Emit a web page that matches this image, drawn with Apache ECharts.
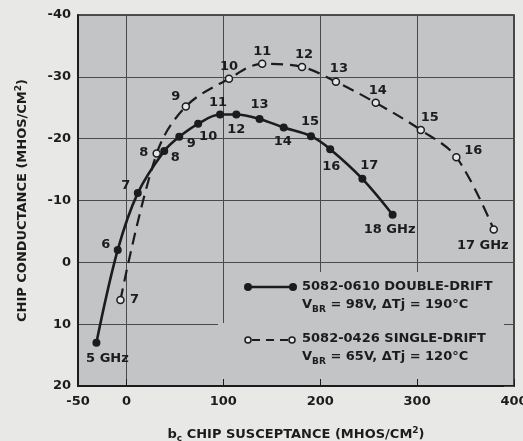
<!DOCTYPE html>
<html>
<head>
<meta charset="utf-8">
<script src="https://cdn.jsdelivr.net/npm/echarts@6/dist/echarts.min.js"></script>
<style>
  html, body { margin: 0; padding: 0; background: #e8e8e6; }
  #chart { width: 523px; height: 441px; }
</style>
</head>
<body>
<div id="chart"></div>
<script>
// 5082-0610 double-drift, solid curve (5..18 GHz)
const ddFreq = [5, 6, 7, 8, 9, 10, 11, 12, 13, 14, 15, 16, 17, 18];
const ddSusceptance = [-31, -9, 11.7, 39, 54.5, 74, 96.6, 113.4, 137.4, 162.3, 190.5, 210.3, 243.5, 274.7];
const ddConductance = [13, -2, -11.2, -18, -20.3, -22.4, -23.9, -23.9, -23.2, -21.8, -20.4, -18.3, -13.5, -7.7];

// 5082-0426 single-drift, dashed curve (7..17 GHz)
const sdFreq = [7, 8, 9, 10, 11, 12, 13, 14, 15, 16, 17];
const sdSusceptance = [-6.2, 31.2, 61.3, 105.8, 140.1, 181.2, 216.2, 257.3, 303.8, 340.5, 379.1];
const sdConductance = [6.1, -17.6, -25.2, -29.7, -32.1, -31.6, -29.2, -25.8, -21.4, -17, -5.3];

const xTickValues = [-50, 0, 100, 200, 300, 400];

// where each frequency label sits relative to its point (px)
const ddLabelOffset = [[11, 16], [-12, -5], [-12, -7], [11, 7], [12, 7], [10, 13], [-2, -12], [0, 15],
  [0, -14], [-1, 14], [-1, -15], [1, 17], [7, -13], [-3, 15]];
const sdLabelOffset = [[14, 0], [-13, -1], [-10, -10], [0, -12], [0, -12], [2, -12], [3, -13],
  [2, -12], [9, -12], [17, -7], [-11, 16]];

const FONT = '"DejaVu Sans", sans-serif';
const INK = '#1c1c1c';
const PLOT_BG = '#c3c4c5';
const OPEN_FILL = '#e6e6e6';

const chart = echarts.init(document.getElementById('chart'));

function pointData(xs, ys, offs) {
  return xs.map((x, i) => ({ value: [x, ys[i]], label: { offset: offs[i] } }));
}

const txt = { fontFamily: FONT, fontSize: 13, fontWeight: 'bold', color: INK };

const option = {
  backgroundColor: '#e8e8e6',
  animation: false,
  grid: {
    left: 78, right: 9, top: 15, bottom: 55,
    outerBoundsMode: 'none',
    show: true, backgroundColor: PLOT_BG, borderColor: INK, borderWidth: 1.5
  },
  xAxis: {
    type: 'value', min: -50, max: 400,
    name: '{a|b}{s|c}{a| CHIP SUSCEPTANCE (MHOS/CM}{p|2}{a|)}',
    nameLocation: 'middle', nameGap: 40,
    nameTextStyle: {
      rich: {
        a: txt,
        s: { ...txt, fontSize: 9, padding: [8, 0, 0, 0] },
        p: { ...txt, fontSize: 9, padding: [0, 0, 8, 0] }
      }
    },
    axisLine: { onZero: false, lineStyle: { color: INK, width: 2 } },
    axisTick: { show: true, inside: true, length: 7, customValues: xTickValues, lineStyle: { color: INK } },
    axisLabel: { ...txt, margin: 9, customValues: xTickValues },
    splitLine: { show: true, lineStyle: { color: '#4a4a4a', width: 1 } }
  },
  yAxis: [{
    type: 'value', min: -40, max: 20, interval: 10, inverse: true,
    name: '{a|CHIP CONDUCTANCE (MHOS/CM}{p|2}{a|)}',
    nameLocation: 'middle', nameGap: 47,
    nameTextStyle: {
      rich: {
        a: txt,
        p: { ...txt, fontSize: 9, padding: [0, 0, 8, 0] }
      }
    },
    axisLine: { show: true, onZero: false, lineStyle: { color: INK, width: 2 } },
    axisTick: { show: false },
    axisLabel: { ...txt, margin: 7 },
    splitLine: { show: true, lineStyle: { color: '#4a4a4a', width: 1 } }
  }, {
    type: 'value', min: -40, max: 20, interval: 10, inverse: true, position: 'right',
    axisLine: { show: false, onZero: false },
    axisTick: { show: true, inside: true, length: 10, lineStyle: { color: '#4a4a4a' } },
    axisLabel: { show: false },
    splitLine: { show: false }
  }],
  series: [{
    type: 'line',
    name: '5082-0610 DOUBLE-DRIFT',
    data: pointData(ddSusceptance, ddConductance, ddLabelOffset),
    smooth: 0.35,
    symbol: 'circle', symbolSize: 8,
    lineStyle: { color: INK, width: 2.6 },
    itemStyle: { color: INK },
    label: {
      show: true, position: 'inside', ...txt, textBorderWidth: 0,
      formatter: p => ddFreq[p.dataIndex] + (p.dataIndex === 0 || p.dataIndex === ddFreq.length - 1 ? ' GHz' : '')
    },
    z: 4
  }, {
    type: 'line',
    name: '5082-0426 SINGLE-DRIFT',
    data: pointData(sdSusceptance, sdConductance, sdLabelOffset),
    smooth: 0.35,
    symbol: 'circle', symbolSize: 7,
    lineStyle: { color: INK, width: 2.2, type: [12, 7] },
    itemStyle: { color: OPEN_FILL, borderColor: INK, borderWidth: 1.5 },
    label: {
      show: true, position: 'inside', ...txt, textBorderWidth: 0,
      formatter: p => sdFreq[p.dataIndex] + (p.dataIndex === sdFreq.length - 1 ? ' GHz' : '')
    },
    z: 3
  }],
  graphic: [
    // clear the grid lines behind the legend
    { type: 'rect', z: 1, silent: true, shape: { x: 236, y: 272, width: 268, height: 107 }, style: { fill: PLOT_BG } },
    { type: 'rect', z: 1, silent: true, shape: { x: 218, y: 323, width: 19, height: 56 }, style: { fill: PLOT_BG } },
    // solid legend entry
    { type: 'line', z: 5, shape: { x1: 248, y1: 287, x2: 293, y2: 287 }, style: { stroke: INK, lineWidth: 2.5 } },
    { type: 'circle', z: 5, shape: { cx: 248, cy: 287, r: 4 }, style: { fill: INK } },
    { type: 'circle', z: 5, shape: { cx: 293, cy: 287, r: 4 }, style: { fill: INK } },
    { type: 'text', z: 5, x: 302, y: 287, style: { text: '5082-0610 DOUBLE-DRIFT', font: 'bold 13px ' + FONT, fill: INK, verticalAlign: 'middle' } },
    { type: 'text', z: 5, x: 302, y: 305, style: {
      text: '{a|V}{s|BR}{a| = 98V, ΔTj = 190°C}', verticalAlign: 'middle',
      rich: { a: { font: 'bold 13px ' + FONT, fill: INK }, s: { font: 'bold 9px ' + FONT, fill: INK, padding: [9, 0, 0, 0] } }
    } },
    // dashed legend entry
    { type: 'line', z: 5, shape: { x1: 252, y1: 340, x2: 289, y2: 340 }, style: { stroke: INK, lineWidth: 2, lineDash: [8, 6] } },
    { type: 'circle', z: 5, shape: { cx: 248, cy: 340, r: 3 }, style: { fill: OPEN_FILL, stroke: INK, lineWidth: 1.5 } },
    { type: 'circle', z: 5, shape: { cx: 292, cy: 340, r: 3 }, style: { fill: OPEN_FILL, stroke: INK, lineWidth: 1.5 } },
    { type: 'text', z: 5, x: 302, y: 339, style: { text: '5082-0426 SINGLE-DRIFT', font: 'bold 13px ' + FONT, fill: INK, verticalAlign: 'middle' } },
    { type: 'text', z: 5, x: 302, y: 357, style: {
      text: '{a|V}{s|BR}{a| = 65V, ΔTj = 120°C}', verticalAlign: 'middle',
      rich: { a: { font: 'bold 13px ' + FONT, fill: INK }, s: { font: 'bold 9px ' + FONT, fill: INK, padding: [9, 0, 0, 0] } }
    } }
  ]
};

chart.setOption(option);
</script>
</body>
</html>
